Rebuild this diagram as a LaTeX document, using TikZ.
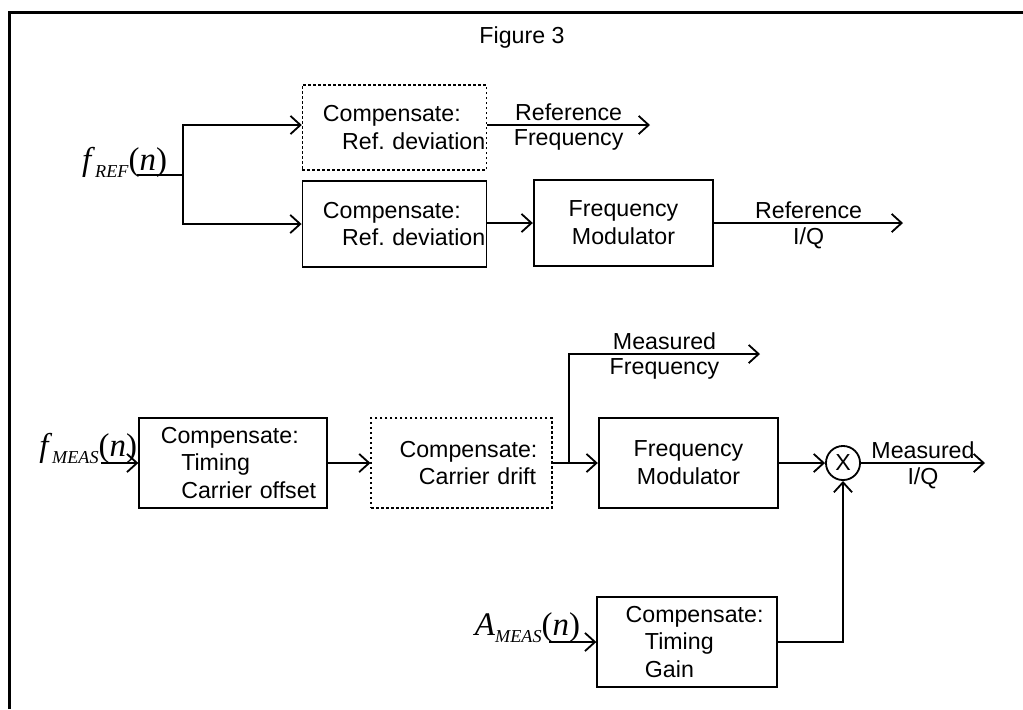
\documentclass[tikz,border=0pt]{standalone}
\usepackage{fontspec}
\setmainfont{Liberation Sans}
\newfontfamily\tms{Liberation Serif}
\usepackage{tikz}
\usetikzlibrary{arrows.meta, positioning}
\frenchspacing

\newcommand{\sigin}[2]{{\tms\fontsize{14.5}{14.5}\selectfont\textit{#1}\raisebox{-0.5ex}{\fontsize{8}{8}\selectfont\textit{#2}}(\textit{n})}}

\begin{document}
\begin{tikzpicture}[x=0.44pt, y=-0.44pt, >={Straight Barb[length=4.4pt, width=8pt]},
  line width=0.8pt,
  blk/.style={draw, font=\fontsize{10.2}{12.3}\selectfont, align=left, text width=81pt, inner xsep=0pt, minimum height=37.5pt},
  dotblk/.style={blk, line width=0.6pt, dash pattern=on 1.1pt off 1.1pt},
  modblk/.style={blk, align=center, text width=79pt, minimum height=38pt},
  mixer/.style={draw, circle, minimum size=15pt, inner sep=0pt, font=\fontsize{10.2}{12}\selectfont},
  lbl/.style={font=\fontsize{10.2}{12}\selectfont, inner sep=1.5pt}]
  \useasboundingbox (0,0) rectangle (1023,709);
  % frame and title
  \draw[line width=0.9pt] (9.5,709) -- (9.5,12.5) -- (1023,12.5);
  \node[lbl] (title) at (522,37) {Figure 3};

  % reference branch
  \node[dotblk] (refdevA) at (394.5,127.5) {\hspace*{9pt}\mbox{Compensate:}\\\hspace*{17.5pt}\mbox{Ref.\ deviation}};
  \node[blk] (refdevB) at (394.5,224) {\hspace*{9pt}\mbox{Compensate:}\\\hspace*{17.5pt}\mbox{Ref.\ deviation}};
  \node[modblk] (fmodref) at (623.5,223) {Frequency\\Modulator};
  \node[anchor=base east, inner sep=0pt] (fref) at (168,170) {\sigin{f}{REF}};
  \coordinate (refin) at (137,175);
  \coordinate (refsplit) at (183,175);
  \coordinate (reffreq) at (650,125);
  \coordinate (refiq) at (903,223);
  \draw (refin) -- (refsplit);
  \draw[->] (refsplit) |- (refdevA.west |- reffreq);
  \draw[->] (refsplit) |- (refdevB.west);
  \draw[->] (refdevA.east |- reffreq) -- (reffreq)
    node[lbl, midway, above] {Reference} node[lbl, midway, below] {Frequency};
  \draw[->] (refdevB.east |- fmodref) -- (fmodref.west);
  \draw[->] (fmodref.east) -- (refiq)
    node[lbl, midway, above] {Reference} node[lbl, midway, below] {I/Q};

  % measured branch
  \node[blk, text width=82.5pt, minimum height=39.5pt] (comptc) at (233,463) {\hspace*{9.5pt}\mbox{Compensate:}\\\hspace*{18.5pt}\mbox{Timing}\\\hspace*{18.5pt}\mbox{Carrier offset}};
  \node[dotblk, text width=79.5pt, minimum height=39.5pt] (compdrift) at (461.5,463) {\hspace*{12.5pt}\mbox{Compensate:}\\\hspace*{21pt}\mbox{Carrier drift}};
  \node[modblk, minimum height=39.5pt] (fmodmeas) at (688.5,463) {Frequency\\Modulator};
  \node[mixer] (mix) at (843,463) {X};
  \node[blk, text width=79pt, minimum height=39.5pt] (compgain) at (687,642) {\hspace*{12.5pt}\mbox{Compensate:}\\\hspace*{21pt}\mbox{Timing}\\\hspace*{21pt}\mbox{Gain}};
  \node[anchor=base east, inner sep=0pt] (fmeas) at (138,456) {\sigin{f}{MEAS}};
  \node[anchor=base east, inner sep=0pt] (ameas) at (581,635) {\sigin{A}{MEAS}};
  \coordinate (measin) at (101,463);
  \coordinate (ampin) at (549,642);
  \coordinate (meassplit) at (569,463);
  \coordinate (measfreq) at (760,354);
  \coordinate (measiq) at (985,463);
  \draw[->] (measin) -- (comptc.west);
  \draw[->] (comptc.east) -- (compdrift.west);
  \draw[->] (compdrift.east) -- (fmodmeas.west);
  \draw[->] (meassplit) |- (measfreq)
    node[lbl, pos=0.75, above] {Measured} node[lbl, pos=0.75, below] {Frequency};
  \draw[->] (fmodmeas.east) -- (mix.west);
  \draw[->] (mix.east) -- (measiq)
    node[lbl, midway, above] {Measured} node[lbl, midway, below] {I/Q};
  \draw[->] (ampin) -- (compgain.west);
  \draw[->] (compgain.east) -| (mix.south);
\end{tikzpicture}
\end{document}
